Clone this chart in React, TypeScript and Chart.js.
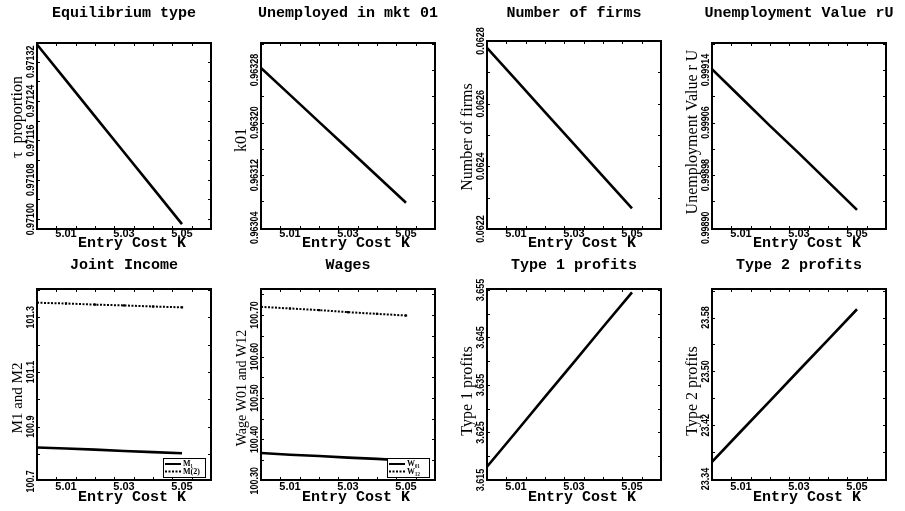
import React, { useEffect, useRef } from "react";
import { Chart, registerables } from "chart.js";

Chart.register(...registerables);

// ---------- data ----------
const ENTRY_COST = [5.0, 5.01, 5.02, 5.03, 5.04, 5.05];
const X_RANGE = [5.0, 5.06];
const X_TICKS = [5.01, 5.03, 5.05];
const X_TICK_LABELS = ["5.01", "5.03", "5.05"];
const X_MINOR = [5.00667, 5.01333, 5.02, 5.02667, 5.03333, 5.04, 5.04667, 5.05333];

const TAU = [0.971355, 0.971282, 0.971209, 0.971136, 0.971063, 0.97099];
const K01 = [0.963283, 0.963242, 0.963201, 0.96316, 0.963119, 0.963078];
const FIRMS = [0.062778, 0.062676, 0.062573, 0.062471, 0.062368, 0.062266];
const RU = [0.999141, 0.999098, 0.999055, 0.999013, 0.99897, 0.998927];
const M1 = [100.824, 100.82, 100.816, 100.811, 100.807, 100.803];
const M2 = [101.353, 101.35, 101.346, 101.343, 101.339, 101.336];
const W01 = [100.367, 100.363, 100.36, 100.356, 100.353, 100.349];
const W12 = [100.72, 100.716, 100.712, 100.707, 100.703, 100.699];
const PROFIT1 = [3.6178, 3.6251, 3.6325, 3.6398, 3.6472, 3.6545];
const PROFIT2 = [23.3656, 23.411, 23.4563, 23.5017, 23.547, 23.5924];

const TAU_TICKS = [0.971, 0.97108, 0.97116, 0.97124, 0.97132];
const TAU_LABELS = ["0.97100", "0.97108", "0.97116", "0.97124", "0.97132"];
const K01_TICKS = [0.96304, 0.96312, 0.9632, 0.96328];
const K01_LABELS = ["0.96304", "0.96312", "0.96320", "0.96328"];
const FIRMS_TICKS = [0.0622, 0.0624, 0.0626, 0.0628];
const FIRMS_LABELS = ["0.0622", "0.0624", "0.0626", "0.0628"];
const RU_TICKS = [0.9989, 0.99898, 0.99906, 0.99914];
const RU_LABELS = ["0.99890", "0.99898", "0.99906", "0.99914"];
const M_TICKS = [100.7, 100.9, 101.1, 101.3];
const M_LABELS = ["100.7", "100.9", "101.1", "101.3"];
const W_TICKS = [100.3, 100.4, 100.5, 100.6, 100.7];
const W_LABELS = ["100.30", "100.40", "100.50", "100.60", "100.70"];
const P1_TICKS = [3.615, 3.625, 3.635, 3.645, 3.655];
const P1_LABELS = ["3.615", "3.625", "3.635", "3.645", "3.655"];
const P2_TICKS = [23.34, 23.42, 23.5, 23.58];
const P2_LABELS = ["23.34", "23.42", "23.50", "23.58"];

const TITLES = [
  "Equilibrium type",
  "Unemployed in mkt 01",
  "Number of firms",
  "Unemployment Value rU",
  "Joint Income",
  "Wages",
  "Type 1 profits",
  "Type 2 profits",
];
const Y_TITLES = [
  "\u03C4  proportion",
  "k01",
  "Number of firms",
  "Unemployment Value r U",
  "M1 and M2",
  "Wage W01 and W12",
  "Type 1 profits",
  "Type 2 profits",
];
const X_TITLE = "Entry Cost K";

// ---------- panel layout ----------
type Series = { label: string; values: number[]; dotted?: boolean };
type Panel = {
  title: string;
  yTitle: string;
  series: Series[];
  yMin: number;
  yMax: number;
  yTicks: number[];
  yLabels: string[];
  legend: boolean;
  left: number;
  top: number;
  width: number;
  height: number;
  plotTop: number;
  plotBottom: number;
  yTitleCenter: number;
  yTitleSize: number;
  titleY: number;
  xTitleY: number;
  xTickY: number;
};

const COL_LEFT = [0, 224, 450, 675];
const COL_W = [224, 226, 225, 230];

const mk = (i: number, o: Partial<Panel>): Panel => {
  const row = i < 4 ? 0 : 1;
  const col = i % 4;
  return {
    title: TITLES[i],
    yTitle: Y_TITLES[i],
    series: [],
    yMin: 0,
    yMax: 1,
    yTicks: [],
    yLabels: [],
    legend: false,
    left: COL_LEFT[col],
    top: row === 0 ? 0 : 255,
    width: COL_W[col],
    height: row === 0 ? 255 : 256,
    plotTop: row === 0 ? 43 : 34,
    plotBottom: row === 0 ? 229 : 225,
    yTitleCenter: 136,
    yTitleSize: 16,
    titleY: row === 0 ? 13 : 10,
    xTitleY: row === 0 ? 243 : 242,
    xTickY: row === 0 ? 233.5 : 231.5,
    ...o,
  } as Panel;
};

const PANELS: Panel[] = [
  mk(0, { series: [{ label: "tau", values: TAU }], yMin: 0.97098, yMax: 0.971358, yTicks: TAU_TICKS, yLabels: TAU_LABELS, yTitleCenter: 117 }),
  mk(1, { series: [{ label: "k01", values: K01 }], yMin: 0.963038, yMax: 0.963321, yTicks: K01_TICKS, yLabels: K01_LABELS, yTitleCenter: 140 }),
  mk(2, { series: [{ label: "firms", values: FIRMS }], yMin: 0.0622, yMax: 0.0628, yTicks: FIRMS_TICKS, yLabels: FIRMS_LABELS, yTitleCenter: 137, plotTop: 41 }),
  mk(3, { series: [{ label: "rU", values: RU }], yMin: 0.998898, yMax: 0.999181, yTicks: RU_TICKS, yLabels: RU_LABELS, yTitleCenter: 132 }),
  mk(4, {
    series: [
      { label: "M\u2081", values: M1 },
      { label: "M(2)", values: M2, dotted: true },
    ],
    yMin: 100.705, yMax: 101.403, yTicks: M_TICKS, yLabels: M_LABELS, legend: true, yTitleCenter: 143, yTitleSize: 15,
  }),
  mk(5, {
    series: [
      { label: "W\u2080\u2081", values: W01 },
      { label: "W\u2081\u2082", values: W12, dotted: true },
    ],
    yMin: 100.302, yMax: 100.763, yTicks: W_TICKS, yLabels: W_LABELS, legend: true, yTitleCenter: 133, yTitleSize: 14,
  }),
  mk(6, { series: [{ label: "p1", values: PROFIT1 }], yMin: 3.615, yMax: 3.6552, yTicks: P1_TICKS, yLabels: P1_LABELS, yTitleCenter: 136 }),
  mk(7, { series: [{ label: "p2", values: PROFIT2 }], yMin: 23.3385, yMax: 23.6225, yTicks: P2_TICKS, yLabels: P2_LABELS, yTitleCenter: 136 }),
];

const PLOT_LEFT = 37;
const PLOT_RIGHT = 211;

const decor = (p: Panel) => ({
  id: "decor",
  afterDraw(chart: any) {
    const { ctx, chartArea: a, scales } = chart;
    const xs = scales.x;
    const ys = scales.y;
    ctx.save();
    ctx.fillStyle = "#000";
    ctx.strokeStyle = "#000";

    // inward ticks
    ctx.lineWidth = 1;
    ctx.beginPath();
    X_MINOR.forEach((v) => {
      const px = Math.round(xs.getPixelForValue(v)) + 0.5;
      ctx.moveTo(px, a.bottom);
      ctx.lineTo(px, a.bottom - 3);
      ctx.moveTo(px, a.top);
      ctx.lineTo(px, a.top + 3);
    });
    const yt: number[] = [];
    p.yTicks.forEach((v, i) => {
      yt.push(v);
      if (i < p.yTicks.length - 1) yt.push((v + p.yTicks[i + 1]) / 2);
    });
    if (p.yTicks.length > 1) {
      const step = (p.yTicks[1] - p.yTicks[0]) / 2;
      yt.push(p.yTicks[p.yTicks.length - 1] + step);
      yt.push(p.yTicks[0] - step);
    }
    yt.forEach((v) => {
      if (v <= p.yMin || v >= p.yMax) return;
      const py = Math.round(ys.getPixelForValue(v)) + 0.5;
      ctx.moveTo(a.left, py);
      ctx.lineTo(a.left + 3, py);
      ctx.moveTo(a.right, py);
      ctx.lineTo(a.right - 3, py);
    });
    ctx.stroke();

    // frame
    ctx.lineWidth = 2;
    ctx.strokeRect(a.left, a.top, a.right - a.left, a.bottom - a.top);

    // title
    const cx = (a.left + a.right) / 2;
    ctx.textAlign = "center";
    ctx.textBaseline = "middle";
    ctx.font = 'bold 15px "Liberation Mono"';
    ctx.fillText(p.title, cx, p.titleY);
    ctx.fillText(X_TITLE, cx + 8, p.xTitleY);

    // x tick labels
    ctx.font = 'bold 11px "Liberation Sans"';
    X_TICKS.forEach((v, i) => {
      ctx.fillText(X_TICK_LABELS[i], xs.getPixelForValue(v), p.xTickY);
    });

    // y tick labels (rotated, condensed)
    p.yTicks.forEach((v, i) => {
      ctx.save();
      ctx.translate(a.left - 6.5, ys.getPixelForValue(v));
      ctx.rotate(-Math.PI / 2);
      ctx.scale(0.78, 1);
      ctx.font = 'bold 11.5px "Liberation Sans"';
      ctx.fillText(p.yLabels[i], 0, 0);
      ctx.restore();
    });

    // y title
    ctx.save();
    ctx.translate(18, p.yTitleCenter);
    ctx.rotate(-Math.PI / 2);
    ctx.font = `${p.yTitleSize}px "Liberation Serif"`;
    ctx.fillText(p.yTitle, 0, 0);
    ctx.restore();

    // legend
    if (p.legend) {
      const bw = 42;
      const bh = 19;
      const bx = Math.round(a.right - 6 - bw);
      const by = Math.round(a.bottom - 3 - bh);
      ctx.fillStyle = "#fff";
      ctx.fillRect(bx, by, bw, bh);
      ctx.fillStyle = "#000";
      ctx.lineWidth = 1;
      ctx.strokeRect(bx + 0.5, by + 0.5, bw, bh);
      chart.data.datasets.forEach((ds: any, i: number) => {
        const ly = by + 6 + i * 7.5;
        ctx.setLineDash(ds.borderDash || []);
        ctx.lineWidth = 2;
        ctx.beginPath();
        ctx.moveTo(bx + 2, ly);
        ctx.lineTo(bx + 18, ly);
        ctx.stroke();
        ctx.setLineDash([]);
        ctx.textAlign = "left";
        ctx.font = 'bold 8px "Liberation Serif"';
        ctx.fillText(ds.label, bx + 20, ly);
      });
    }
    ctx.restore();
  },
});

function PanelChart({ p }: { p: Panel }) {
  const ref = useRef<HTMLCanvasElement | null>(null);
  useEffect(() => {
    if (!ref.current) return;
    const chart = new Chart(ref.current, {
      type: "line",
      data: {
        datasets: p.series.map((s) => ({
          label: s.label,
          data: ENTRY_COST.map((x, i) => ({ x, y: s.values[i] })),
          borderColor: "#000",
          backgroundColor: "#000",
          borderWidth: s.dotted ? 2 : 2.6,
          borderDash: s.dotted ? [2, 1.5] : [],
          pointRadius: s.dotted ? 1.6 : 0,
          pointStyle: "rect",
          pointBackgroundColor: "#000",
          pointBorderWidth: 0,
          tension: 0,
          fill: false,
        })),
      },
      options: {
        animation: false,
        responsive: false,
        events: [],
        layout: {
          padding: {
            left: PLOT_LEFT,
            right: p.width - PLOT_RIGHT,
            top: p.plotTop,
            bottom: p.height - p.plotBottom,
          },
        },
        plugins: {
          legend: { display: false },
          title: { display: false },
          tooltip: { enabled: false },
        },
        scales: {
          x: { type: "linear", display: false, min: X_RANGE[0], max: X_RANGE[1] },
          y: { type: "linear", display: false, min: p.yMin, max: p.yMax },
        },
      } as any,
      plugins: [decor(p)],
    });
    return () => chart.destroy();
  }, [p]);
  return (
    <canvas
      ref={ref}
      width={p.width}
      height={p.height}
      style={{ position: "absolute", left: p.left, top: p.top, width: p.width, height: p.height }}
    />
  );
}

export default function App() {
  return (
    <div style={{ position: "absolute", left: 0, top: 0, width: 905, height: 511, background: "#fff", overflow: "hidden" }}>
      {PANELS.map((p, i) => (
        <PanelChart key={i} p={p} />
      ))}
    </div>
  );
}
